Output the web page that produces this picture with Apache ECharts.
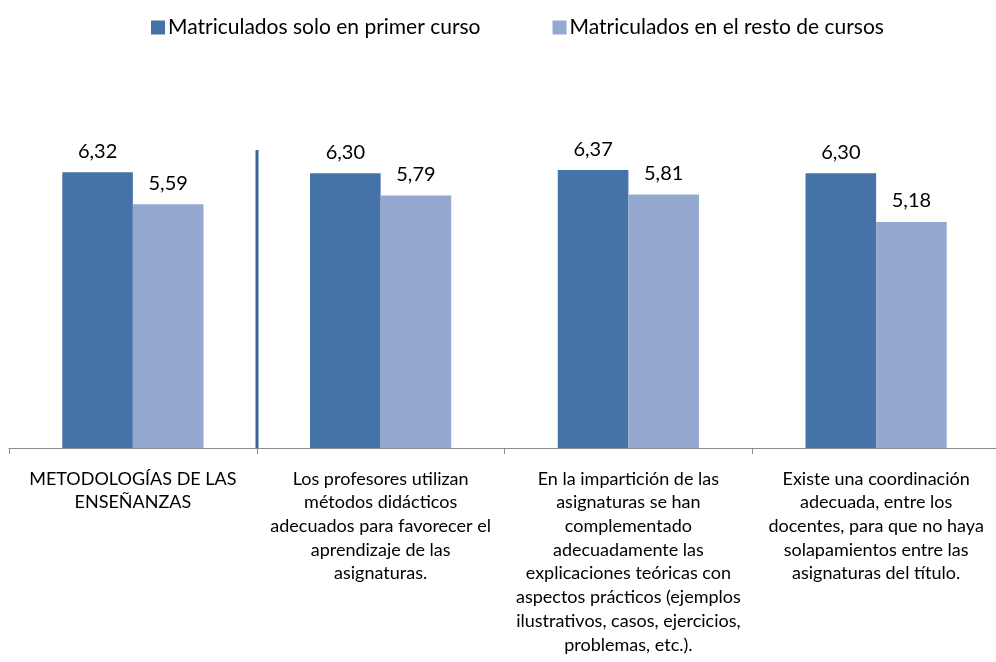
<!DOCTYPE html>
<html>
<head>
<meta charset="utf-8">
<script src="https://cdn.jsdelivr.net/npm/echarts@6/dist/echarts.min.js"></script>
<style>
  html, body { margin: 0; padding: 0; background: #fff; }
  #chart { width: 996px; height: 662px; }
</style>
</head>
<body>
<div id="chart"></div>
<script>
// categories (line breaks as in the original)
var categories = [
  'METODOLOGÍAS DE LAS\nENSEÑANZAS',
  'Los profesores utilizan\nmétodos didácticos\nadecuados para favorecer el\naprendizaje de las\nasignaturas.',
  'En la impartición de las\nasignaturas se han\ncomplementado\nadecuadamente las\nexplicaciones teóricas con\naspectos prácticos (ejemplos\nilustrativos, casos, ejercicios,\nproblemas, etc.).',
  'Existe una coordinación\nadecuada, entre los\ndocentes, para que no haya\nsolapamientos entre las\nasignaturas del título.'
];
var seriesNames = ['Matriculados solo en primer curso', 'Matriculados en el resto de cursos'];
var primerCurso = [6.32, 6.30, 6.37, 6.30];
var restoCursos = [5.59, 5.79, 5.81, 5.18];
// separator after the first (summary) group, top value in axis units
var separatorTop = 6.83;

var font = 'Lato';

function fmt(p) {
  return p.value.toFixed(2).replace('.', ',');
}

var myChart = echarts.init(document.getElementById('chart'));
var option = {
  animation: false,
  legend: {
    top: 12,
    left: 146,
    icon: 'rect',
    itemWidth: 14,
    itemHeight: 14,
    itemGap: 72,
    textStyle: { fontFamily: font, fontSize: 21, color: '#000', padding: [0, 0, 0, -2] },
    data: seriesNames
  },
  grid: {
    left: 9,
    right: -4,
    top: 99,
    bottom: 214,
    outerBoundsMode: 'none'
  },
  xAxis: {
    type: 'category',
    data: categories,
    axisLine: { lineStyle: { color: '#8c8c8c', width: 1 } },
    axisTick: { show: true, length: 6, lineStyle: { color: '#8c8c8c' } },
    axisLabel: {
      interval: 0,
      margin: 19,
      fontFamily: font,
      fontSize: 18,
      lineHeight: 23.7,
      color: '#000',
      align: 'center'
    }
  },
  yAxis: {
    type: 'value',
    min: 0,
    max: 8,
    show: false,
    splitLine: { show: false }
  },
  series: [
    {
      name: seriesNames[0],
      type: 'bar',
      data: primerCurso,
      barGap: '0%',
      barCategoryGap: '43%',
      itemStyle: { color: '#4573A7' },
      label: {
        show: true, position: 'top', distance: 11,
        fontFamily: font, fontSize: 20, color: '#000',
        formatter: fmt
      }
    },
    {
      name: seriesNames[1],
      type: 'bar',
      data: restoCursos,
      itemStyle: { color: '#95A9D0' },
      label: {
        show: true, position: 'top', distance: 11,
        fontFamily: font, fontSize: 20, color: '#000',
        formatter: fmt
      }
    }
  ]
};
option && myChart.setOption(option);

// vertical separator between the summary group and the detail items
var x0 = myChart.convertToPixel({ xAxisIndex: 0 }, 0);
var x1 = myChart.convertToPixel({ xAxisIndex: 0 }, 1);
var yTop = myChart.convertToPixel({ yAxisIndex: 0 }, separatorTop);
var yBottom = myChart.convertToPixel({ yAxisIndex: 0 }, 0);
var xs = Math.round((x0 + x1) / 2);
myChart.setOption({
  graphic: [{
    type: 'line',
    shape: { x1: xs, y1: yTop, x2: xs, y2: yBottom },
    style: { stroke: '#3B6398', lineWidth: 3 },
    z: 10
  }]
});
</script>
</body>
</html>
